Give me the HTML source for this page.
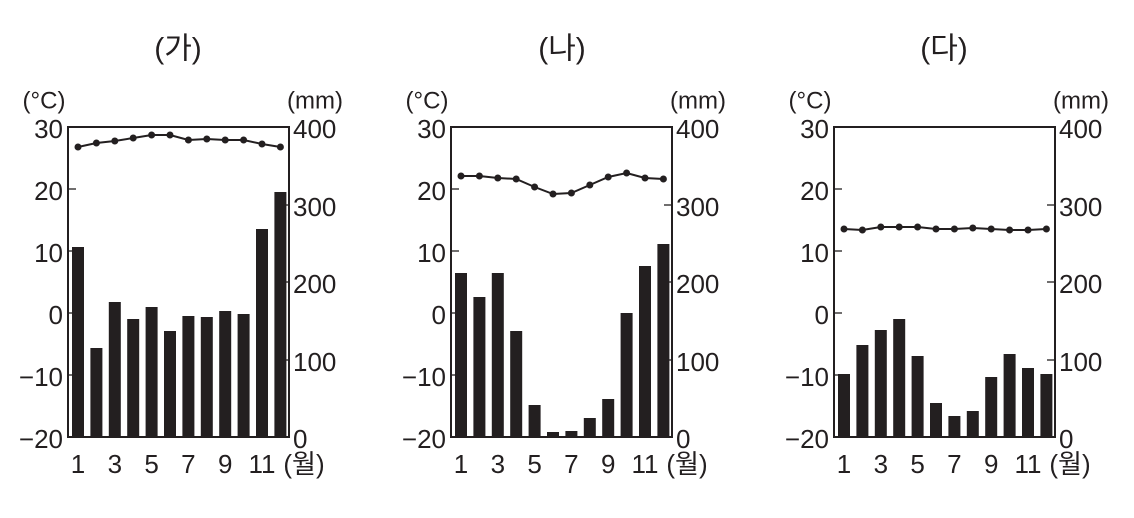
<!DOCTYPE html>
<html><head><meta charset="utf-8"><style>
html,body{margin:0;padding:0;background:#fff;}
svg text{font-family:"Liberation Sans","Noto Sans CJK KR",sans-serif;fill:#231f20;}
</style></head><body>
<svg width="1134" height="513" viewBox="0 0 1134 513" xmlns="http://www.w3.org/2000/svg">
<defs>
<g id="frame">
<rect x="0" y="127" width="221" height="310" fill="none" stroke="#231f20" stroke-width="2"/>
<g stroke="#231f20" stroke-width="1.3">
<line x1="0" y1="189" x2="8" y2="189"/><line x1="0" y1="251" x2="8" y2="251"/><line x1="0" y1="313" x2="8" y2="313"/><line x1="0" y1="375" x2="8" y2="375"/>
<line x1="213" y1="205" x2="221" y2="205"/><line x1="213" y1="282" x2="221" y2="282"/><line x1="213" y1="360" x2="221" y2="360"/>
</g>
<g font-size="26" text-anchor="end" dominant-baseline="central">
<text x="-5" y="129">30</text><text x="-5" y="191">20</text><text x="-5" y="253">10</text><text x="-5" y="315">0</text><text x="-5" y="377">−10</text><text x="-5" y="439">−20</text>
</g>
<g font-size="26" text-anchor="start" dominant-baseline="central">
<text x="225" y="129">400</text><text x="225" y="207">300</text><text x="225" y="284">200</text><text x="225" y="362">100</text><text x="225" y="439">0</text>
</g>
<text x="-24" y="101" font-size="24" text-anchor="middle" dominant-baseline="central">(°C)</text>
<text x="247" y="101" font-size="24" text-anchor="middle" dominant-baseline="central">(mm)</text>
<g font-size="26" text-anchor="middle" dominant-baseline="central">
<text x="10" y="464">1</text><text x="46.8" y="464">3</text><text x="83.6" y="464">5</text><text x="120.4" y="464">7</text><text x="157.2" y="464">9</text><text x="194" y="464">11</text><text x="236" y="464">(월)</text>
</g>
</g>
</defs>

<text x="178" y="49" font-size="30" text-anchor="middle" dominant-baseline="central">(가)</text>
<text x="562" y="49" font-size="30" text-anchor="middle" dominant-baseline="central">(나)</text>
<text x="944" y="49" font-size="30" text-anchor="middle" dominant-baseline="central">(다)</text>

<!-- chart 1 -->
<g transform="translate(68,0)">
<use href="#frame"/>
<g fill="#231f20">
<rect x="4" y="247" width="12" height="190"/><rect x="22.4" y="348" width="12" height="89"/><rect x="40.8" y="302" width="12" height="135"/><rect x="59.2" y="319" width="12" height="118"/><rect x="77.6" y="307" width="12" height="130"/><rect x="96" y="331" width="12" height="106"/><rect x="114.4" y="316" width="12" height="121"/><rect x="132.8" y="317" width="12" height="120"/><rect x="151.2" y="311" width="12" height="126"/><rect x="169.6" y="314" width="12" height="123"/><rect x="188" y="229" width="12" height="208"/><rect x="206.4" y="192" width="12" height="245"/>
</g>
<polyline fill="none" stroke="#231f20" stroke-width="2" points="10,147 28.4,143 46.8,141 65.2,138 83.6,135 102,135 120.4,140 138.8,139 157.2,140 175.6,140 194,144 212.4,147"/>
<g fill="#231f20"><circle cx="10" cy="147" r="3.5"/><circle cx="28.4" cy="143" r="3.5"/><circle cx="46.8" cy="141" r="3.5"/><circle cx="65.2" cy="138" r="3.5"/><circle cx="83.6" cy="135" r="3.5"/><circle cx="102" cy="135" r="3.5"/><circle cx="120.4" cy="140" r="3.5"/><circle cx="138.8" cy="139" r="3.5"/><circle cx="157.2" cy="140" r="3.5"/><circle cx="175.6" cy="140" r="3.5"/><circle cx="194" cy="144" r="3.5"/><circle cx="212.4" cy="147" r="3.5"/></g>
</g>

<!-- chart 2 -->
<g transform="translate(451,0)">
<use href="#frame"/>
<g fill="#231f20">
<rect x="4" y="273" width="12" height="164"/><rect x="22.4" y="297" width="12" height="140"/><rect x="40.8" y="273" width="12" height="164"/><rect x="59.2" y="331" width="12" height="106"/><rect x="77.6" y="405" width="12" height="32"/><rect x="96" y="432" width="12" height="5"/><rect x="114.4" y="431" width="12" height="6"/><rect x="132.8" y="418" width="12" height="19"/><rect x="151.2" y="399" width="12" height="38"/><rect x="169.6" y="313" width="12" height="124"/><rect x="188" y="266" width="12" height="171"/><rect x="206.4" y="244" width="12" height="193"/>
</g>
<polyline fill="none" stroke="#231f20" stroke-width="2" points="10,176 28.4,176 46.8,178 65.2,179 83.6,187 102,194 120.4,193 138.8,185 157.2,177 175.6,173 194,178 212.4,179"/>
<g fill="#231f20"><circle cx="10" cy="176" r="3.5"/><circle cx="28.4" cy="176" r="3.5"/><circle cx="46.8" cy="178" r="3.5"/><circle cx="65.2" cy="179" r="3.5"/><circle cx="83.6" cy="187" r="3.5"/><circle cx="102" cy="194" r="3.5"/><circle cx="120.4" cy="193" r="3.5"/><circle cx="138.8" cy="185" r="3.5"/><circle cx="157.2" cy="177" r="3.5"/><circle cx="175.6" cy="173" r="3.5"/><circle cx="194" cy="178" r="3.5"/><circle cx="212.4" cy="179" r="3.5"/></g>
</g>

<!-- chart 3 -->
<g transform="translate(834,0)">
<use href="#frame"/>
<g fill="#231f20">
<rect x="4" y="374" width="12" height="63"/><rect x="22.4" y="345" width="12" height="92"/><rect x="40.8" y="330" width="12" height="107"/><rect x="59.2" y="319" width="12" height="118"/><rect x="77.6" y="356" width="12" height="81"/><rect x="96" y="403" width="12" height="34"/><rect x="114.4" y="416" width="12" height="21"/><rect x="132.8" y="411" width="12" height="26"/><rect x="151.2" y="377" width="12" height="60"/><rect x="169.6" y="354" width="12" height="83"/><rect x="188" y="368" width="12" height="69"/><rect x="206.4" y="374" width="12" height="63"/>
</g>
<polyline fill="none" stroke="#231f20" stroke-width="2" points="10,229 28.4,230 46.8,227 65.2,227 83.6,227 102,229 120.4,229 138.8,228 157.2,229 175.6,230 194,230 212.4,229"/>
<g fill="#231f20"><circle cx="10" cy="229" r="3.5"/><circle cx="28.4" cy="230" r="3.5"/><circle cx="46.8" cy="227" r="3.5"/><circle cx="65.2" cy="227" r="3.5"/><circle cx="83.6" cy="227" r="3.5"/><circle cx="102" cy="229" r="3.5"/><circle cx="120.4" cy="229" r="3.5"/><circle cx="138.8" cy="228" r="3.5"/><circle cx="157.2" cy="229" r="3.5"/><circle cx="175.6" cy="230" r="3.5"/><circle cx="194" cy="230" r="3.5"/><circle cx="212.4" cy="229" r="3.5"/></g>
</g>
</svg>
</body></html>
